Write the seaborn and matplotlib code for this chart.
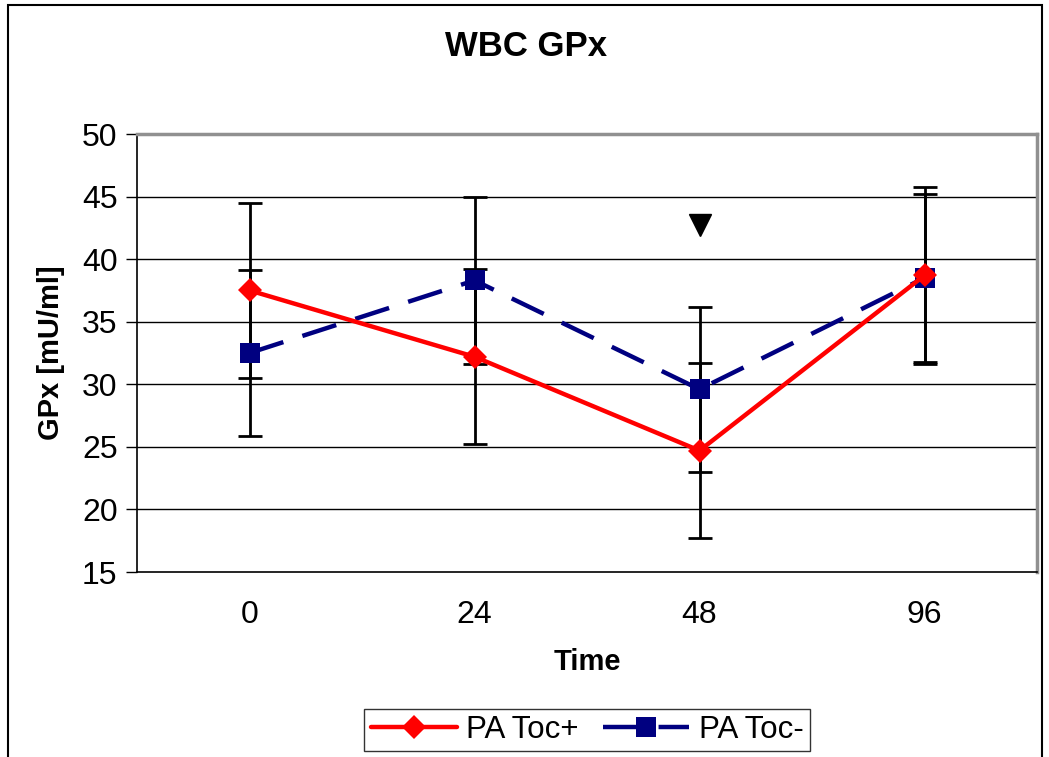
import numpy as np
import matplotlib
matplotlib.use("Agg")
import matplotlib.pyplot as plt
import seaborn as sns
from matplotlib.patches import Rectangle

# Sampling times (h) and group means / standard deviations
times = ["0", "24", "48", "96"]
toc_plus = [37.5, 32.2, 24.7, 38.7]
toc_plus_sd = [7.0, 7.0, 7.0, 7.1]
toc_minus = [32.5, 38.3, 29.6, 38.5]
toc_minus_sd = [6.6, 6.7, 6.6, 6.7]
y_ticks = [15, 20, 25, 30, 35, 40, 45, 50]
# significance marker above the 48 h group
sig_time = "48"
sig_level = 42.7

sns.set_theme(style="white")
plt.rcParams["font.family"] = ["Liberation Sans", "DejaVu Sans"]
plt.rcParams["text.color"] = "black"
plt.rcParams["axes.labelcolor"] = "black"
plt.rcParams["xtick.color"] = "black"
plt.rcParams["ytick.color"] = "black"

fig = plt.figure(figsize=(10.49, 7.57), dpi=100)
ax = fig.add_axes([137 / 1049, 1 - 572 / 757, 900 / 1049, 438 / 757])

pos = np.arange(len(times))

# error bars sit behind the lines and markers
ax.errorbar(pos, toc_plus, yerr=toc_plus_sd, fmt="none", ecolor="black",
            elinewidth=2, capsize=8.5, capthick=2, zorder=2)
ax.errorbar(pos, toc_minus, yerr=toc_minus_sd, fmt="none", ecolor="black",
            elinewidth=2, capsize=8.5, capthick=2, zorder=2)

sns.lineplot(x=pos, y=toc_plus, ax=ax, color="#ff0000", lw=3.2, marker="D",
             markersize=12, markeredgewidth=0, label="PA Toc+", zorder=4)
sns.lineplot(x=pos, y=toc_minus, ax=ax, color="#000080", lw=3.2, marker="s",
             markersize=14, markeredgewidth=0, linestyle=(0, (8, 4.5)),
             label="PA Toc-", zorder=3)

ax.plot([times.index(sig_time)], [sig_level], marker="v", color="black",
        markersize=16, linestyle="none", zorder=5)

ax.set_xlim(-0.5, len(times) - 0.5)
ax.set_ylim(y_ticks[0], y_ticks[-1])
ax.set_yticks(y_ticks)
ax.set_xticks(pos)
ax.set_xticklabels(times)
ax.set_xticks(np.arange(len(times) + 1) - 0.5, minor=True)

ax.tick_params(axis="x", which="major", length=0, labelsize=23, pad=20, colors="black")
ax.tick_params(axis="x", which="minor", length=8, width=1, color="black", direction="out")
ax.tick_params(axis="y", length=8, width=1, color="black", direction="out",
               labelsize=23, pad=6, left=True, labelcolor="black")

for y in y_ticks[1:-1]:
    ax.axhline(y, color="black", lw=1, zorder=1)

ax.spines["left"].set_color("black")
ax.spines["bottom"].set_color("black")
ax.spines["left"].set_linewidth(1.2)
ax.spines["bottom"].set_linewidth(1.2)
ax.spines["top"].set_color("#909090")
ax.spines["right"].set_color("#909090")
ax.spines["top"].set_linewidth(2.5)
ax.spines["right"].set_linewidth(2.5)

ax.set_xlabel("Time", fontsize=21, fontweight="bold", labelpad=13, color="black")
ax.set_ylabel("GPx [mU/ml]", fontsize=21, fontweight="bold", labelpad=12, color="black")
fig.text(0.5015, 1 - 47 / 757, "WBC GPx", ha="center", va="center",
         fontsize=25, fontweight="bold", color="black")

leg = ax.legend(loc="center", bbox_to_anchor=(587 / 1049, 1 - 730 / 757),
                bbox_transform=fig.transFigure, ncol=2, fontsize=22.5,
                frameon=True, fancybox=False, edgecolor="black",
                handlelength=2.75, handletextpad=0.3, columnspacing=0.8,
                borderpad=0.2, numpoints=1, labelcolor="black")
leg.get_frame().set_linewidth(1)

# outer chart frame
fig.patches.append(Rectangle((8 / 1049, -0.05), 1034 / 1049, 1.05 - 5 / 757,
                             transform=fig.transFigure, fill=False,
                             edgecolor="black", lw=1.5))

fig.savefig("out.png", dpi=100)
